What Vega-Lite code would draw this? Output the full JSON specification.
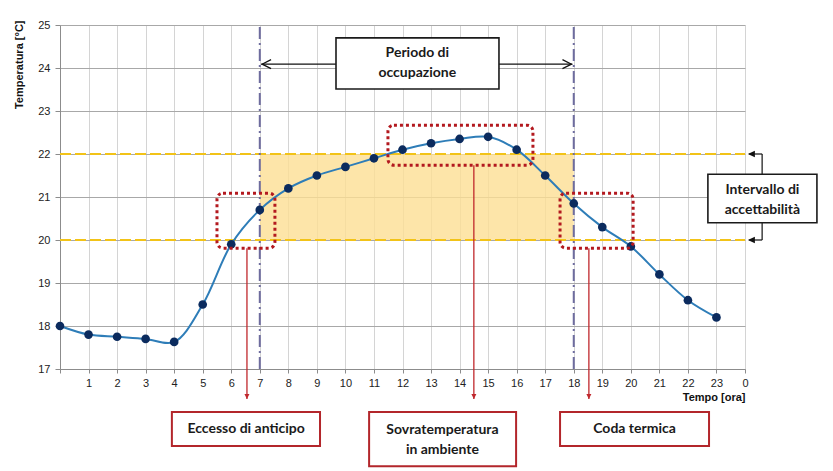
{
  "$schema": "https://vega.github.io/schema/vega-lite/v6.json",
  "width": 685,
  "height": 344,
  "autosize": {"type": "none"},
  "padding": {"left": 60, "top": 25, "right": 88, "bottom": 102},
  "background": "white",
  "config": {
    "view": {"stroke": null},
    "font": "Liberation Sans"
  },
  "datasets": {
    "temp": [
      {"x": 0, "y": 18.0}, {"x": 1, "y": 17.8}, {"x": 2, "y": 17.75}, {"x": 3, "y": 17.7},
      {"x": 4, "y": 17.63}, {"x": 5, "y": 18.5}, {"x": 6, "y": 19.9}, {"x": 7, "y": 20.7},
      {"x": 8, "y": 21.2}, {"x": 9, "y": 21.5}, {"x": 10, "y": 21.7}, {"x": 11, "y": 21.9},
      {"x": 12, "y": 22.1}, {"x": 13, "y": 22.25}, {"x": 14, "y": 22.35}, {"x": 15, "y": 22.4},
      {"x": 16, "y": 22.1}, {"x": 17, "y": 21.5}, {"x": 18, "y": 20.85}, {"x": 19, "y": 20.3},
      {"x": 20, "y": 19.85}, {"x": 21, "y": 19.2}, {"x": 22, "y": 18.6}, {"x": 23, "y": 18.2}
    ],
    "band": [{"x": 7, "x2": 18, "y": 20, "y2": 22}],
    "limits": [
      {"x": 0, "x2": 24, "y": 22, "y2": 22},
      {"x": 0, "x2": 24, "y": 20, "y2": 20}
    ],
    "occupancy": [
      {"x": 7, "x2": 7, "y": 17, "y2": 25},
      {"x": 18, "x2": 18, "y": 17, "y2": 25}
    ],
    "highlights": [
      {"x": 5.5, "x2": 7.53, "y": 21.09, "y2": 19.81},
      {"x": 11.49, "x2": 16.57, "y": 22.67, "y2": 21.74},
      {"x": 17.52, "x2": 20.08, "y": 21.09, "y2": 19.81}
    ],
    "redArrows": [
      {"x": 6.55, "x2": 6.55, "y": 19.81, "y2": 16.3},
      {"x": 14.5, "x2": 14.5, "y": 21.74, "y2": 16.3},
      {"x": 18.53, "x2": 18.53, "y": 19.81, "y2": 16.3}
    ],
    "redHeads": [
      {"x": 6.55, "y": 16.3},
      {"x": 14.5, "y": 16.3},
      {"x": 18.53, "y": 16.3}
    ],
    "periodLine": [{"x": 7.05, "x2": 17.95, "y": 24.09, "y2": 24.09}],
    "periodLeft": [{"x": 7.08, "y": 24.09}],
    "periodRight": [{"x": 17.92, "y": 24.09}],
    "blackBoxes": [
      {"x": 9.67, "x2": 15.38, "y": 24.70, "y2": 23.51},
      {"x": 22.7, "x2": 26.52, "y": 21.53, "y2": 20.40}
    ],
    "blackTexts": [
      {"x": 12.52, "y": 24.35, "label": "Periodo di"},
      {"x": 12.52, "y": 23.88, "label": "occupazione"},
      {"x": 24.61, "y": 21.16, "label": "Intervallo di"},
      {"x": 24.61, "y": 20.70, "label": "accettabilità"}
    ],
    "elbows": [
      {"x": 24.6, "x2": 24.6, "y": 21.53, "y2": 22},
      {"x": 24.15, "x2": 24.6, "y": 22, "y2": 22},
      {"x": 24.6, "x2": 24.6, "y": 20.40, "y2": 20},
      {"x": 24.15, "x2": 24.6, "y": 20, "y2": 20}
    ],
    "elbowHeads": [
      {"x": 24.1, "y": 22},
      {"x": 24.1, "y": 20}
    ],
    "redBoxes": [
      {"x": 3.92, "x2": 9.11, "y": 16.0, "y2": 15.21},
      {"x": 10.83, "x2": 15.98, "y": 16.0, "y2": 14.74},
      {"x": 17.52, "x2": 22.74, "y": 16.0, "y2": 15.21}
    ],
    "redTexts": [
      {"x": 6.52, "y": 15.6, "label": "Eccesso di anticipo"},
      {"x": 13.4, "y": 15.58, "label": "Sovratemperatura"},
      {"x": 13.4, "y": 15.12, "label": "in ambiente"},
      {"x": 20.13, "y": 15.6, "label": "Coda termica"}
    ]
  },
  "encoding": {
    "x": {
      "field": "x", "type": "quantitative",
      "scale": {"domain": [0, 24], "nice": false, "zero": false},
      "axis": {
        "values": [0,1,2,3,4,5,6,7,8,9,10,11,12,13,14,15,16,17,18,19,20,21,22,23,24],
        "labelExpr": "datum.value == 0 ? '' : (datum.value == 24 ? '0' : datum.label)",
        "title": "Tempo [ora]",
        "titleAnchor": "end",
        "titleFontWeight": "bold",
        "titleFontSize": 11,
        "titleColor": "#111",
        "titlePadding": 3,
        "labelFontSize": 11,
        "labelColor": "#222",
        "labelPadding": 4,
        "labelFlush": false,
        "labelOverlap": false,
        "grid": true,
        "gridColor": "#D4D4D4",
        "domainColor": "#8C8C8C",
        "tickColor": "#8C8C8C",
        "tickSize": 4
      }
    },
    "y": {
      "field": "y", "type": "quantitative",
      "scale": {"domain": [17, 25], "nice": false, "zero": false},
      "axis": {
        "values": [17,18,19,20,21,22,23,24,25],
        "title": "Temperatura [°C]",
        "titleFontWeight": "bold",
        "titleFontSize": 11,
        "titleColor": "#111",
        "titleX": -36,
        "titleY": -5,
        "titleAlign": "right",
        "titleBaseline": "bottom",
        "labelFontSize": 11,
        "labelColor": "#222",
        "labelPadding": 5,
        "labelFlush": false,
        "grid": true,
        "gridColor": "#A8A8A8",
        "domainColor": "#8C8C8C",
        "tickColor": "#8C8C8C",
        "tickSize": 5
      }
    }
  },
  "layer": [
    {
      "data": {"name": "band"},
      "mark": {"type": "rect", "fill": "#FCDF93", "opacity": 0.8, "clip": false},
      "encoding": {"x2": {"field": "x2"}, "y2": {"field": "y2"}}
    },
    {
      "data": {"name": "limits"},
      "mark": {"type": "rule", "color": "#F2C318", "strokeWidth": 2.2, "strokeDash": [11, 4]},
      "encoding": {"x2": {"field": "x2"}, "y2": {"field": "y2"}}
    },
    {
      "data": {"name": "occupancy"},
      "mark": {"type": "rule", "color": "#6E6C9E", "strokeWidth": 2, "strokeDash": [12, 4, 2, 4]},
      "encoding": {"x2": {"field": "x2"}, "y2": {"field": "y2"}}
    },
    {
      "data": {"name": "temp"},
      "mark": {"type": "line", "interpolate": "catmull-rom", "color": "#2E7DB8", "strokeWidth": 2}
    },
    {
      "data": {"name": "temp"},
      "mark": {"type": "point", "filled": true, "color": "#0B2B5E", "size": 75, "opacity": 1}
    },
    {
      "data": {"name": "highlights"},
      "mark": {"type": "rect", "fill": null, "fillOpacity": 0, "stroke": "#B3191F", "strokeWidth": 3, "strokeDash": [3, 3], "cornerRadius": 6, "clip": false},
      "encoding": {"x2": {"field": "x2"}, "y2": {"field": "y2"}}
    },
    {
      "data": {"name": "redArrows"},
      "mark": {"type": "rule", "color": "#C0282D", "strokeWidth": 1.3, "clip": false},
      "encoding": {"x2": {"field": "x2"}, "y2": {"field": "y2"}}
    },
    {
      "data": {"name": "redHeads"},
      "mark": {"type": "point", "shape": "M-0.5,-1L0.5,-1L0,0Z", "filled": true, "color": "#C0282D", "size": 100, "opacity": 1, "clip": false}
    },
    {
      "data": {"name": "periodLine"},
      "mark": {"type": "rule", "color": "#111", "strokeWidth": 1.2},
      "encoding": {"x2": {"field": "x2"}, "y2": {"field": "y2"}}
    },
    {
      "data": {"name": "periodLeft"},
      "mark": {"type": "point", "shape": "M1,-0.5L0,0L1,0.5", "filled": false, "color": "#111", "strokeWidth": 1.2, "size": 324, "opacity": 1}
    },
    {
      "data": {"name": "periodRight"},
      "mark": {"type": "point", "shape": "M-1,-0.5L0,0L-1,0.5", "filled": false, "color": "#111", "strokeWidth": 1.2, "size": 324, "opacity": 1}
    },
    {
      "data": {"name": "elbows"},
      "mark": {"type": "rule", "color": "#111", "strokeWidth": 1.2, "clip": false},
      "encoding": {"x2": {"field": "x2"}, "y2": {"field": "y2"}}
    },
    {
      "data": {"name": "elbowHeads"},
      "mark": {"type": "point", "shape": "M0,0L1,-0.45L1,0.45Z", "filled": true, "color": "#111", "size": 196, "opacity": 1, "clip": false}
    },
    {
      "data": {"name": "blackBoxes"},
      "mark": {"type": "rect", "fill": "white", "stroke": "#1A1A1A", "strokeWidth": 1.6, "clip": false},
      "encoding": {"x2": {"field": "x2"}, "y2": {"field": "y2"}}
    },
    {
      "data": {"name": "blackTexts"},
      "mark": {"type": "text", "font": "Lato", "fontWeight": "bold", "fontSize": 14, "color": "#1A1A1A", "align": "center", "baseline": "middle", "clip": false},
      "encoding": {"text": {"field": "label"}}
    },
    {
      "data": {"name": "redBoxes"},
      "mark": {"type": "rect", "fill": "white", "stroke": "#B3262B", "strokeWidth": 2, "clip": false},
      "encoding": {"x2": {"field": "x2"}, "y2": {"field": "y2"}}
    },
    {
      "data": {"name": "redTexts"},
      "mark": {"type": "text", "font": "Lato", "fontWeight": "bold", "fontSize": 14, "color": "#1A1A1A", "align": "center", "baseline": "middle", "clip": false},
      "encoding": {"text": {"field": "label"}}
    }
  ]
}
